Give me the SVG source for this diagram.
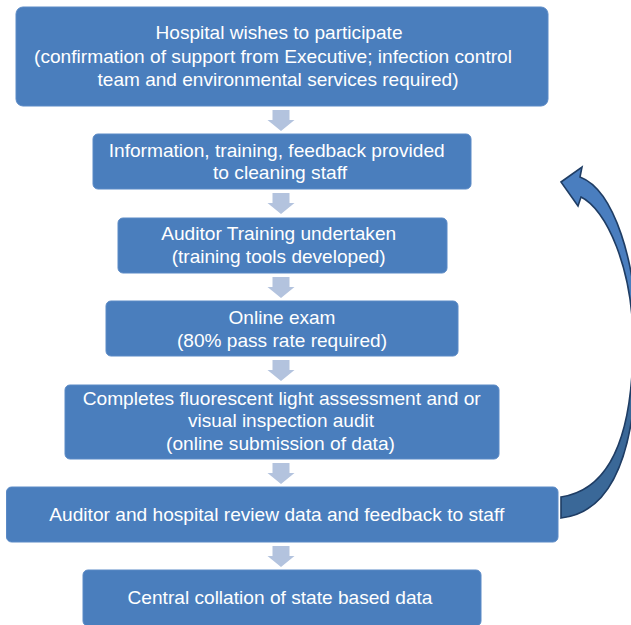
<svg xmlns="http://www.w3.org/2000/svg" width="631" height="625" viewBox="0 0 631 625">
<style>
.box{fill:#4a7ebd;stroke:#5b8ac6;stroke-width:1}
.t{fill:#ffffff;font-family:"Liberation Sans",Arial,sans-serif;font-size:19px;text-anchor:middle}
.down{fill:#b3c3de}
.cf{fill:#4a7ebf;stroke:#1f3d64;stroke-width:1.6;stroke-linejoin:miter}
.cb{fill:#3a6898;stroke:#1f3d64;stroke-width:1.6}
</style>
<defs>
<path id="dn" d="M-8.5,0 H8.5 V10 H13.5 L0,21 L-13.5,10 H-8.5 Z"/>
</defs>
<rect width="631" height="625" fill="#ffffff"/>
<g id="connectors">
<use href="#dn" class="down" x="281" y="110"/>
<use href="#dn" class="down" x="281" y="193"/>
<use href="#dn" class="down" x="281" y="277"/>
<use href="#dn" class="down" x="281" y="360"/>
<use href="#dn" class="down" x="281" y="463"/>
<use href="#dn" class="down" x="281" y="546"/>
<g id="loop-arrow">
<path class="cb" d="M637,342 C637,440 618,512 561,518 L561,497 C608,490 633,440 633,342 Z"/>
<path class="cf" d="M561,182 L582,167 L580,177 C614,190 637,262 637,342 L633,342 C633,268 606,209 581,197 L578,206 Z"/>
</g>
</g>
<g id="n1">
<rect class="box" x="16" y="7" width="532" height="99" rx="7"/>
<text class="t" x="279" y="39" textLength="247" lengthAdjust="spacingAndGlyphs">Hospital wishes to participate</text>
<text class="t" x="273" y="62.5" textLength="478" lengthAdjust="spacingAndGlyphs">(confirmation of support from Executive; infection control</text>
<text class="t" x="278" y="85.5" textLength="361" lengthAdjust="spacingAndGlyphs">team and environmental services required)</text>
</g>
<g id="n2">
<rect class="box" x="93" y="134" width="378" height="55" rx="5"/>
<text class="t" x="276.7" y="156.5" textLength="336" lengthAdjust="spacingAndGlyphs">Information, training, feedback provided</text>
<text class="t" x="280" y="179" textLength="134" lengthAdjust="spacingAndGlyphs">to cleaning staff</text>
</g>
<g id="n3">
<rect class="box" x="118" y="218" width="329" height="55" rx="5"/>
<text class="t" x="278.7" y="240" textLength="235" lengthAdjust="spacingAndGlyphs">Auditor Training undertaken</text>
<text class="t" x="278.7" y="262.5" textLength="214" lengthAdjust="spacingAndGlyphs">(training tools developed)</text>
</g>
<g id="n4">
<rect class="box" x="106" y="301" width="352" height="55" rx="5"/>
<text class="t" x="282" y="324" textLength="107" lengthAdjust="spacingAndGlyphs">Online exam</text>
<text class="t" x="282" y="346.5" textLength="210" lengthAdjust="spacingAndGlyphs">(80% pass rate required)</text>
</g>
<g id="n5">
<rect class="box" x="65" y="385" width="434" height="74" rx="5"/>
<text class="t" x="281.7" y="405" textLength="398" lengthAdjust="spacingAndGlyphs">Completes fluorescent light assessment and or</text>
<text class="t" x="281" y="427" textLength="186" lengthAdjust="spacingAndGlyphs">visual inspection audit</text>
<text class="t" x="280.5" y="449.5" textLength="229" lengthAdjust="spacingAndGlyphs">(online submission of data)</text>
</g>
<g id="n6">
<rect class="box" x="6.5" y="487" width="551.5" height="55" rx="5"/>
<text class="t" x="276.8" y="520.5" textLength="455" lengthAdjust="spacingAndGlyphs">Auditor and hospital review data and feedback to staff</text>
</g>
<g id="n7">
<rect class="box" x="83" y="570" width="398" height="56" rx="5"/>
<text class="t" x="280" y="604" textLength="305" lengthAdjust="spacingAndGlyphs">Central collation of state based data</text>
</g>
</svg>
